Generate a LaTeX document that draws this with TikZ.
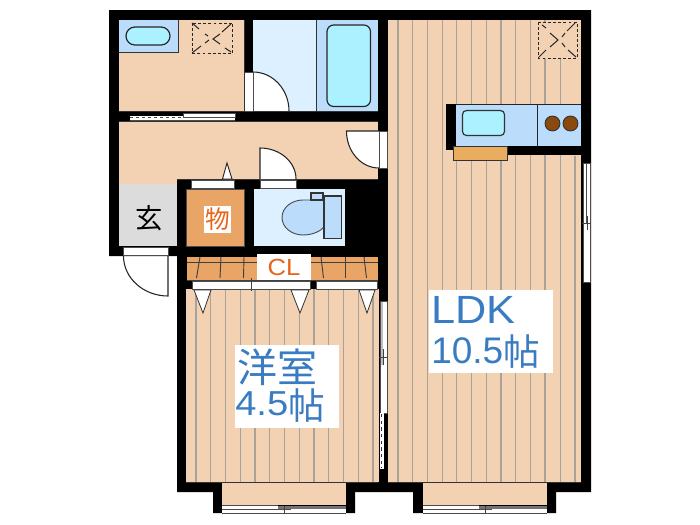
\documentclass[tikz,border=0pt]{standalone}
\usepackage{fontspec}
\setmainfont{Liberation Sans}
\newfontfamily\cjkfont{Noto Sans CJK JP}
\newfontfamily\widefont[FakeStretch=1.1]{Liberation Sans}
\definecolor{floor}{HTML}{F3D1B3}
\definecolor{stripe}{HTML}{A9A29B}
\definecolor{pale}{HTML}{DDF0FF}
\definecolor{midblue}{HTML}{BBDDFB}
\definecolor{water}{HTML}{ACF1FF}
\definecolor{store}{HTML}{E9A566}
\definecolor{mat}{HTML}{E8AD5E}
\definecolor{entry}{HTML}{DCDCDC}
\definecolor{labelblue}{HTML}{3A7CC2}
\definecolor{labelorange}{HTML}{E8641B}
\definecolor{burner}{HTML}{8A4A0E}
\tikzset{
 x=0.75pt,y=-0.75pt,
 roomfill/.style={fill=floor},
 wood/.style={stripe,line width=0.9pt},
 thin/.style={draw=black!80,line width=0.55pt},
 whitepart/.style={fill=white,draw=black!70,line width=0.45pt},
 vent/.style={black!85,line width=0.75pt,dash pattern=on 2.2pt off 1.6pt},
 ventx/.style={black!85,line width=0.75pt},
 tick/.style={black!75,line width=0.7pt},
 lblbox/.style={fill=white,inner sep=0pt,anchor=north west},
 lbl/.style={inner sep=0pt,text=labelblue,anchor=base west},
}
\begin{document}
\begin{tikzpicture}
\useasboundingbox (0,0) rectangle (700,525);
\fill[white] (0,0) rectangle (700,525);
% walls
\fill[black] (109,10)--(591,10)--(591,492)--(556,492)--(556,513)--(413,513)--(413,492)--(355,492)--(355,513)--(213,513)--(213,492)--(177,492)--(177,256)--(109,256)--cycle;
% floors
\fill[roomfill] (119,20) rectangle (244,111);
\fill[roomfill] (119,121) rectangle (378,179);
\fill[roomfill] (119,179) rectangle (177,184);
\fill[roomfill] (186,289) rectangle (378.5,482);
\fill[roomfill] (388,20) rectangle (581,482);
\fill[roomfill] (222,483) rectangle (346,505);
\fill[roomfill] (423,483) rectangle (547,505);
% wood stripes
\foreach \i in {0,...,12} \draw[wood] ({196+14.75*\i},289) -- ({196+14.75*\i},482);
\foreach \i in {0,...,10} \draw[wood] ({398+14.7*\i},20) -- ({398+14.7*\i},482);
\draw[wood] (545.6,58) -- (545.6,482);
\draw[wood] (560.3,58) -- (560.3,482);
\draw[wood] (575,156) -- (575,482);
\draw[thin] (186,482.5) -- (378,482.5) (388,482.5) -- (581,482.5);
% wash room
\fill[midblue] (119,20) rectangle (178,52);
\draw[black!80,line width=0.7pt] (178,20) -- (178,52) -- (119,52);
\draw[black!85,line width=0.9pt,fill=water,rounded corners=6.7pt] (126,27) rectangle (170,45);
\draw[vent] (192,23) rectangle (232.5,53);
\draw[ventx] (192,23) -- (199,29) (205,34) -- (208,36) (192,53) -- (201,46) (205,43) -- (209,40)
  (220,34) -- (213,39) -- (220,44) (231,24) -- (222,32) (231,52) -- (225,48);
% bath
\fill[pale] (253,20) rectangle (316,111);
\fill[midblue] (316,20) rectangle (378,111);
\draw[thin] (316,20) -- (316,111);
\draw[black!85,line width=0.9pt,fill=water,rounded corners=5pt] (327,25) rectangle (370.5,106.5);
% bath door
\fill[white] (253,72) .. controls (272.9,72) and (289,89.5) .. (289,111) -- (253,111) -- cycle;
\draw[black!85,line width=0.8pt] (253,72) .. controls (272.9,72) and (289,89.5) .. (289,111);
\draw[whitepart] (244.5,72) rectangle (253,111);
\draw[thin] (244,20) -- (244,111) -- (119,111);
\draw[thin] (253,111) -- (378,111);
% sliding door
\fill[white] (129.5,115.5) rectangle (235,120.5);
\draw[whitepart] (183,113) rectangle (235,117.5);
\draw[black!70,line width=0.5pt] (129.5,120.5) -- (235,120.5);
\draw[black!70,line width=0.9pt,dash pattern=on 2.5pt off 2pt] (130,117.5) -- (183,117.5);
\draw[thin] (119,121) -- (378,121);
\draw[thin] (177,179) -- (378,179);
% hall right door
\fill[white] (379,131) -- (346.5,131) .. controls (346.5,151.4) and (361,168) .. (379,168) -- cycle;
\draw[black!85,line width=0.8pt] (379,131) -- (346.5,131) .. controls (346.5,151.4) and (361,168) .. (379,168);
\draw[whitepart] (379,131) rectangle (387,168);
% toilet door
\fill[white] (260,148) .. controls (279.9,148) and (296,162) .. (296,179) -- (260,179) -- cycle;
\draw[black!85,line width=0.8pt] (260,179) -- (260,148) .. controls (279.9,148) and (296,162) .. (296,179);
\draw[whitepart] (260,180) rectangle (296,188);
% storage door
\draw[whitepart] (191,180) rectangle (234,188);
\draw[black!85,line width=0.7pt,fill=white] (222.5,179) -- (227,163) -- (232,179) -- cycle;
% entry
\fill[entry] (119,184) rectangle (177,246);
\draw[whitepart] (123.5,247) rectangle (168,255.5);
\draw[black!85,line width=0.8pt] (123.5,256) .. controls (123.5,278) and (143.4,296) .. (168,296) -- (168,256);
\node[inner sep=0pt,font=\cjkfont\fontsize{20.5}{24}\selectfont] (genkan) at (149,218) {玄};
% store
\fill[store] (186.5,189) rectangle (244,246);
\draw[black!70,line width=0.4pt] (186.5,189) rectangle (244,246);
\node[fill=white,minimum width=20.2pt,minimum height=20.2pt,inner sep=0pt,text=labelorange,font=\cjkfont\fontsize{18.5}{20}\selectfont] (mono) at (217.5,219.5) {物};
% toilet
\fill[pale] (254,189) rectangle (345,246);
\draw[black!70,line width=0.7pt,fill=midblue] (324,196) -- (319,194) -- (311,200) -- (303,200) .. controls (291.4,200) and (282,207.8) .. (282,217.5) .. controls (282,227.2) and (291.4,235) .. (303,235) .. controls (313,235) and (321,231) .. (325,226) -- cycle;
\draw[black!80,line width=0.8pt,fill=midblue] (311,193) rectangle (323,200);
\draw[black!80,line width=0.8pt,fill=midblue] (324,196) rectangle (341.5,238.5);
% closet
\fill[store] (186.5,257) rectangle (378,280);
\draw[black!75,line width=0.6pt] (186.5,262.5) -- (378,262.5);
\draw[black!75,line width=0.6pt] (186.5,280) -- (378,280);
\foreach \a/\b in {200/196.5,221/220,244/243.5,321/323.5,345/345,364/366.5}
  \draw[tick] (\a,257) -- (\b,278);
\node[fill=white,minimum width=40.5pt,minimum height=19.5pt,inner sep=0pt,text=labelorange,font=\widefont\fontsize{17.5}{18}\selectfont] (cl) at (284,267) {CL};
% closet doors
\draw[whitepart] (192,281) rectangle (251,289);
\draw[whitepart] (251,281) rectangle (310,289);
\draw[whitepart] (316.5,281) rectangle (377,289);
\draw[tick] (251,278) -- (251,291);
\foreach \a/\b/\c in {194/211/203,291/309/300,359/375/367}
  \draw[black!80,line width=0.6pt,fill=white] (\a,290) -- (\b,290) -- (\c,313) -- cycle;
% bedroom window to LDK
\fill[white] (379.5,301) rectangle (387,413);
\fill[black!25] (379.5,301) rectangle (383,365);
\draw[black!70,line width=0.5pt] (380,301) rectangle (387,413);
\draw[black!75,line width=0.7pt] (378.5,357) -- (387,357);
\draw[black!75,line width=0.7pt] (383,349) -- (383,365);
\fill[white] (379.5,413) rectangle (384,469);
\draw[black!80,line width=1pt,dash pattern=on 2.5pt off 2.5pt] (381.5,414) -- (381.5,468);
% kitchen
\fill[midblue] (456,104.5) rectangle (581,145.5);
\draw[black!85,line width=0.7pt] (456,104.5) -- (581,104.5) (537.5,104.5) -- (537.5,145.5);
\fill[black] (446,104) rectangle (456,150);
\fill[black] (507,145.5) rectangle (581,155);
\draw[black!80,line width=0.9pt,fill=water,rounded corners=3pt] (462.5,110.5) rectangle (504.5,135.5);
\draw[black!80,line width=0.7pt,fill=burner] (552.5,123.5) circle[radius=5.6pt];
\draw[black!80,line width=0.7pt,fill=burner] (570.5,123.5) circle[radius=5.6pt];
\draw[black!80,line width=0.7pt,fill=mat] (453.5,146) rectangle (507.5,160);
% LDK vent
\fill[floor] (538,22) rectangle (577,58);
\draw[vent] (538,22) rectangle (577,58);
\draw[ventx] (542,25) -- (546,28) (550,33) -- (558,40) -- (550,47) (575,23) -- (567,31) (565,33) -- (562,37)
  (539,57) -- (546,50) (576,57) -- (568,50) (562,43) -- (565,47);
% right window
\draw[whitepart] (583,163) rectangle (590,282);
\draw[black!70,line width=0.5pt] (586.5,163) -- (586.5,223);
\draw[black!75,line width=0.7pt] (582,223) -- (590,223) (587,216) -- (587,230);
% bottom windows
\foreach \l/\r/\m in {222/346/284,423/547/485}{
  \fill[white] (\l,505.5) rectangle (\r,513);
  \fill[black!55] ({\m-6},505.5) rectangle (\r,509);
  \draw[black!70,line width=0.5pt] (\l,505.5) -- ({\m-6},505.5);
  \draw[black!70,line width=0.7pt] (\l,509.5) -- ({\m+7},509.5);
  \draw[black!70,line width=0.5pt] (\l,513) -- (\r,513);
  \draw[black!75,line width=0.7pt] (\m,505.5) -- (\m,513);
}
% labels
\node[lblbox,minimum width=78pt,minimum height=62.25pt] (roombox) at (235,345) {};
\node[lbl,font=\cjkfont\fontsize{30}{30}\selectfont] (roomname) at (237,382) {洋室};
\node[lbl,font=\fontsize{26}{30}\selectfont] (roomsize) at (235,415) {{\widefont 4.5}\raisebox{-3.5pt}{\cjkfont\fontsize{27.5}{30}\selectfont 帖}};
\node[lblbox,minimum width=93pt,minimum height=62.25pt] (ldkbox) at (429,290) {};
\node[lbl,font=\widefont\fontsize{29.5}{30}\selectfont] (ldkname) at (431,323) {LDK};
\node[lbl,font=\fontsize{27.75}{30}\selectfont] (ldksize) at (431,363) {10.5\raisebox{-1.5pt}{\cjkfont\fontsize{27.5}{30}\selectfont 帖}};
\end{tikzpicture}
\end{document}
